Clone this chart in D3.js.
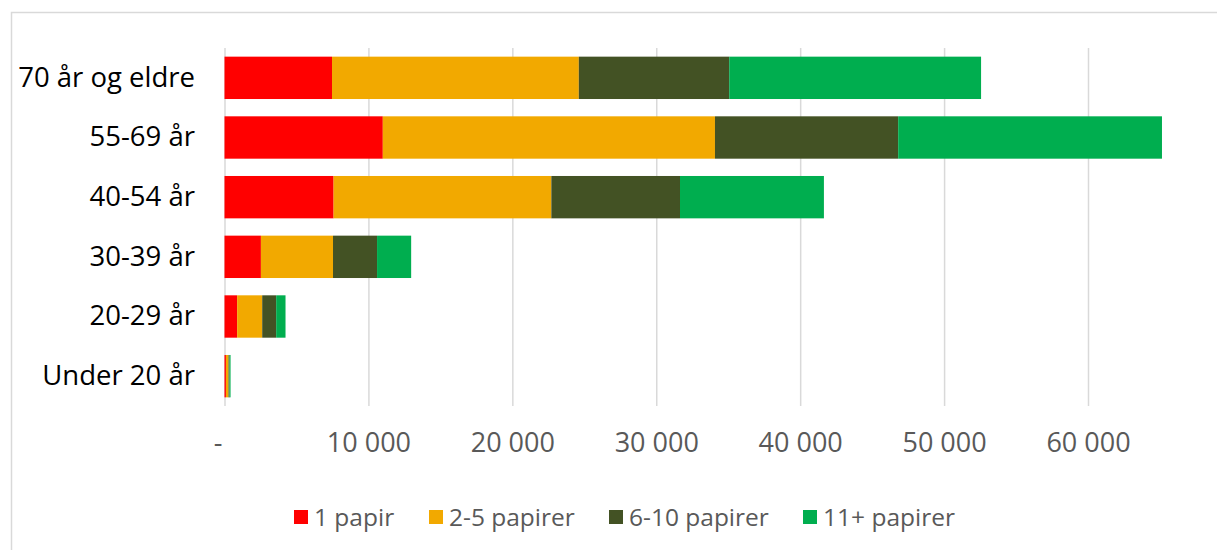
<!DOCTYPE html>
<html>
<head>
<meta charset="utf-8">
<script src="https://cdn.jsdelivr.net/npm/d3@7"></script>
<style>
  body { margin: 0; background: #fff; }
  svg { display: block; font-family: "Open Sans", sans-serif; }
</style>
</head>
<body>
<div id="chart"></div>
<script>
// age groups, top to bottom
const ageGroups = ["70 år og eldre", "55-69 år", "40-54 år", "30-39 år", "20-29 år", "Under 20 år"];
const seriesNames = ["1 papir", "2-5 papirer", "6-10 papirer", "11+ papirer"];
const seriesColors = ["#ff0000", "#f2a900", "#435224", "#00ae4f"];

// values per series, same order as ageGroups
const onePaper = [7470, 11000, 7580, 2530, 880, 100];
const twoToFive = [17150, 23080, 15130, 5010, 1740, 180];
const sixToTen = [10450, 12730, 8940, 3060, 970, 70];
const elevenPlus = [17500, 18330, 10000, 2370, 650, 70];

const xTicks = [0, 10000, 20000, 30000, 40000, 50000, 60000];

const width = 1217;
const height = 550;

const rows = ageGroups.map((g, i) => ({
    group: g,
    "1 papir": onePaper[i],
    "2-5 papirer": twoToFive[i],
    "6-10 papirer": sixToTen[i],
    "11+ papirer": elevenPlus[i]
}));

const stacked = d3.stack().keys(seriesNames)(rows);

const svg = d3.select("#chart").append("svg")
    .attr("width", width)
    .attr("height", height);

// chart border (runs off the right and bottom)
svg.append("rect")
    .attr("x", 11.5).attr("y", 12.5)
    .attr("width", 1230).attr("height", 560)
    .attr("fill", "none")
    .attr("stroke", "#d9d9d9")
    .attr("stroke-width", 1.5);

const x = d3.scaleLinear()
    .domain([0, 60000])
    .range([224.5, 1088]);

const y = d3.scaleBand()
    .domain(ageGroups)
    .range([48, 406])
    .paddingInner(0.29)
    .paddingOuter(0.145);

// gridlines
svg.append("g")
    .attr("transform", "translate(0,48)")
    .call(d3.axisBottom(x).tickValues(xTicks).tickFormat("").tickSize(358))
    .call(g => g.select(".domain").remove())
    .call(g => g.selectAll("line").attr("stroke", "#d9d9d9").attr("stroke-width", 1.5));

// bars
svg.append("g")
    .selectAll("g")
    .data(stacked)
    .join("g")
    .attr("fill", (d, i) => seriesColors[i])
    .selectAll("rect")
    .data(d => d)
    .join("rect")
    .attr("x", d => x(d[0]))
    .attr("y", d => y(d.data.group))
    .attr("width", d => x(d[1]) - x(d[0]))
    .attr("height", y.bandwidth());

// x tick labels
const fmt = v => v === 0 ? "-" : d3.format(",")(v).replace(/,/g, " ");
svg.append("g")
    .attr("transform", "translate(0,406)")
    .call(d3.axisBottom(x).tickValues(xTicks).tickFormat(fmt).tickSize(0).tickPadding(27))
    .call(g => g.select(".domain").remove())
    .call(g => g.selectAll("text")
        .attr("fill", "#595959")
        .style("font-size", "27px")
        .style("font-family", "'Open Sans', sans-serif"));
svg.selectAll("text").filter(function() { return this.textContent === "-"; })
    .attr("dx", -7);

// y labels
svg.append("g")
    .attr("transform", "translate(195,0)")
    .call(d3.axisLeft(y).tickSize(0).tickPadding(0))
    .call(g => g.select(".domain").remove())
    .call(g => g.selectAll("text")
        .attr("fill", "#000")
        .style("font-size", "27.5px")
        .style("font-family", "'Open Sans', sans-serif"));

// legend
const legendX = [294, 429, 609, 803];
const legend = svg.append("g");
seriesNames.forEach((name, i) => {
    legend.append("rect")
        .attr("x", legendX[i]).attr("y", 510)
        .attr("width", 14).attr("height", 14)
        .attr("fill", seriesColors[i]);
    legend.append("text")
        .attr("x", legendX[i] + 20).attr("y", 517)
        .attr("dy", "0.35em")
        .attr("fill", "#595959")
        .style("font-size", "24.5px")
        .text(name);
});
</script>
</body>
</html>
